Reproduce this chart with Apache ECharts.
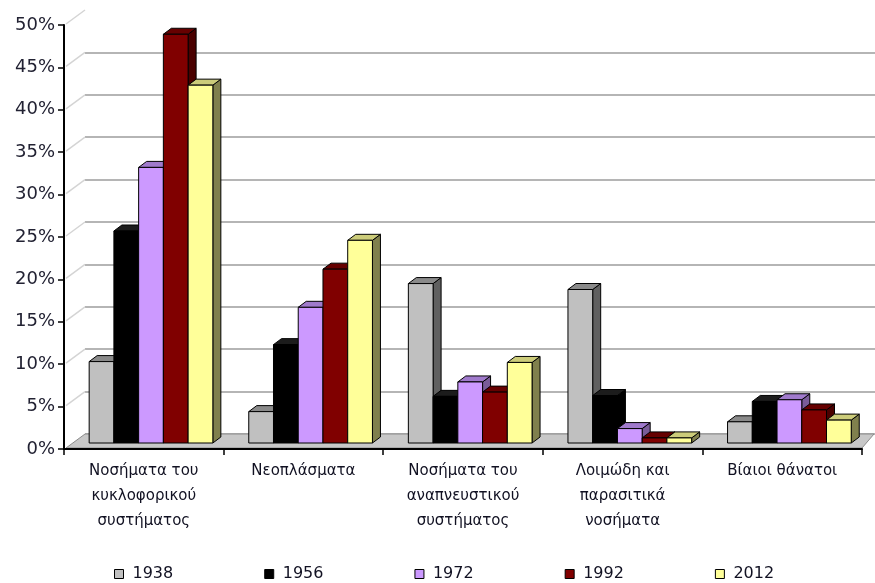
<!DOCTYPE html>
<html>
<head>
<meta charset="utf-8">
<script src="https://cdn.jsdelivr.net/npm/echarts@6/dist/echarts.min.js"></script>
<style>
  html, body { margin: 0; padding: 0; background: #ffffff; }
  #chart { width: 875px; height: 583px; }
</style>
</head>
<body>
<div id="chart"></div>
<script>
// Causes of death (% of all deaths) by group and year
const categories = [
  'Νοσήματα του\nκυκλοφορικού\nσυστήματος',
  'Νεοπλάσματα',
  'Νοσήματα του\nαναπνευστικού\nσυστήματος',
  'Λοιμώδη και\nπαρασιτικά\nνοσήματα',
  'Βίαιοι θάνατοι'
];
const years = ['1938', '1956', '1972', '1992', '2012'];
const v1938 = [9.6, 3.7, 18.8, 18.1, 2.5];
const v1956 = [25.0, 11.6, 5.5, 5.6, 4.9];
const v1972 = [32.5, 16.0, 7.2, 1.7, 5.1];
const v1992 = [48.2, 20.5, 6.0, 0.6, 3.9];
const v2012 = [42.2, 23.9, 9.5, 0.6, 2.7];
const yTicks = [0, 5, 10, 15, 20, 25, 30, 35, 40, 45, 50];

const seriesValues = [v1938, v1956, v1972, v1992, v2012];

// front / top / side shades of each column
const palettes = [
  { front: '#c0c0c0', top: '#8a8a8a', side: '#606060' },
  { front: '#000000', top: '#1c1c1c', side: '#000000' },
  { front: '#cc99ff', top: '#a07acc', side: '#7a5c99' },
  { front: '#800000', top: '#660000', side: '#4a0000' },
  { front: '#ffff99', top: '#cccc7a', side: '#80804d' }
];

// 3D geometry
const WALL = { dx: 21, dy: -15 };    // depth of floor / side wall
const SHIFT = { dx: 8.4, dy: -6 };   // column front plane inside the box
const BAR_D = { dx: 8, dy: -6 };     // column depth
const GROUP_OFFSET = 0.105;          // first column offset within a category
const BAR_RATIO = 0.155;             // column width within a category

function columnRenderer(k) {
  const pal = palettes[k];
  return function (params, api) {
    const ci = api.value(0);
    const val = api.value(1);
    const band = api.size([1, 0])[0];
    const base = api.coord([ci, 0]);
    const top = api.coord([ci, val]);
    const w = band * BAR_RATIO;
    const x0 = base[0] - band / 2 + band * GROUP_OFFSET + k * w + SHIFT.dx;
    const x1 = x0 + w;
    const yb = base[1] + SHIFT.dy;
    const yt = top[1] + SHIFT.dy;
    const edge = { stroke: '#000', lineWidth: 1, lineJoin: 'round' };
    return {
      type: 'group',
      children: [
        {
          type: 'polygon',
          shape: { points: [[x1, yb], [x1 + BAR_D.dx, yb + BAR_D.dy], [x1 + BAR_D.dx, yt + BAR_D.dy], [x1, yt]] },
          style: Object.assign({ fill: pal.side }, edge)
        },
        {
          type: 'polygon',
          shape: { points: [[x0, yt], [x1, yt], [x1 + BAR_D.dx, yt + BAR_D.dy], [x0 + BAR_D.dx, yt + BAR_D.dy]] },
          style: Object.assign({ fill: pal.top }, edge)
        },
        {
          type: 'rect',
          shape: { x: x0, y: yt, width: w, height: yb - yt },
          style: Object.assign({ fill: pal.front }, edge)
        }
      ]
    };
  };
}

// side wall diagonals and the floor
function wallRenderer(params, api) {
  const band = api.size([1, 0])[0];
  const p = api.coord([0, api.value(0)]);
  const xl = p[0] - band / 2;
  const children = [];
  if (api.value(0) === 0) {
    const pr = api.coord([categories.length - 1, 0]);
    const xr = pr[0] + band / 2;
    children.push({
      type: 'polygon',
      shape: { points: [[xl + 2, p[1] - 1], [xr, p[1] - 1], [xr + 12, p[1] + WALL.dy], [xl + WALL.dx, p[1] + WALL.dy]] },
      style: { fill: '#c8c8c8', stroke: '#8c8c8c', lineWidth: 1 }
    });
  } else {
    children.push({
      type: 'line',
      shape: { x1: xl + 2, y1: p[1] - 1, x2: xl + WALL.dx, y2: p[1] + WALL.dy },
      style: { stroke: '#d4d4d4', lineWidth: 1.5 }
    });
  }
  return { type: 'group', children: children };
}

const chart = echarts.init(document.getElementById('chart'), null, { renderer: 'canvas' });

const columnSeries = years.map(function (y, k) {
  return {
    name: y,
    type: 'custom',
    xAxisIndex: 0,
    yAxisIndex: 0,
    z: 3,
    renderItem: columnRenderer(k),
    itemStyle: { color: palettes[k].front, borderColor: '#000', borderWidth: 1 },
    encode: { x: 0, y: 1 },
    data: seriesValues[k].map(function (v, i) { return [i, v]; })
  };
});

const option = {
  animation: false,
  backgroundColor: '#ffffff',
  grid: [
    { left: 64, right: 13, top: 25, bottom: 134, containLabel: false },
    { left: 64 + WALL.dx, right: 13 - WALL.dx, top: 25 + WALL.dy, bottom: 134 - WALL.dy, containLabel: false }
  ],
  xAxis: [
    {
      type: 'category',
      gridIndex: 0,
      data: categories,
      boundaryGap: true,
      z: 5,
      axisLine: { show: true, lineStyle: { color: '#000', width: 2 } },
      axisTick: { show: true, length: 6, lineStyle: { color: '#000', width: 1.5 } },
      axisLabel: {
        margin: 10,
        interval: 0,
        fontFamily: 'DejaVu Sans',
        fontSize: 15,
        lineHeight: 25,
        color: '#111122'
      },
      splitLine: { show: false }
    },
    {
      type: 'category',
      gridIndex: 1,
      data: categories,
      show: false
    }
  ],
  yAxis: [
    {
      type: 'value',
      gridIndex: 0,
      min: 0,
      max: 50,
      interval: 5,
      z: 5,
      axisLine: { show: true, lineStyle: { color: '#000', width: 2 } },
      axisTick: { show: true, length: 6, lineStyle: { color: '#000', width: 1.5 } },
      axisLabel: {
        margin: 9,
        formatter: '{value}%',
        fontFamily: 'DejaVu Sans',
        fontSize: 18,
        color: '#222233'
      },
      splitLine: { show: false }
    },
    {
      type: 'value',
      gridIndex: 1,
      min: 0,
      max: 50,
      interval: 5,
      axisLine: { show: false },
      axisTick: { show: false },
      axisLabel: { show: false },
      splitLine: { show: true, showMaxLine: false, lineStyle: { color: '#9c9c9c', width: 1.5 } }
    }
  ],
  legend: {
    data: years,
    left: 109,
    top: 561,
    itemWidth: 9,
    itemHeight: 9,
    itemGap: 91,
    icon: 'rect',
    itemStyle: { borderColor: '#000', borderWidth: 1 },
    textStyle: { fontFamily: 'DejaVu Sans', fontSize: 16, color: '#111122', padding: [0, 0, 0, 4] }
  },
  series: [
    {
      name: 'walls',
      type: 'custom',
      xAxisIndex: 0,
      yAxisIndex: 0,
      z: 1,
      silent: true,
      renderItem: wallRenderer,
      encode: { y: 0 },
      data: yTicks.map(function (t) { return [t]; })
    }
  ].concat(columnSeries)
};

chart.setOption(option);
</script>
</body>
</html>
